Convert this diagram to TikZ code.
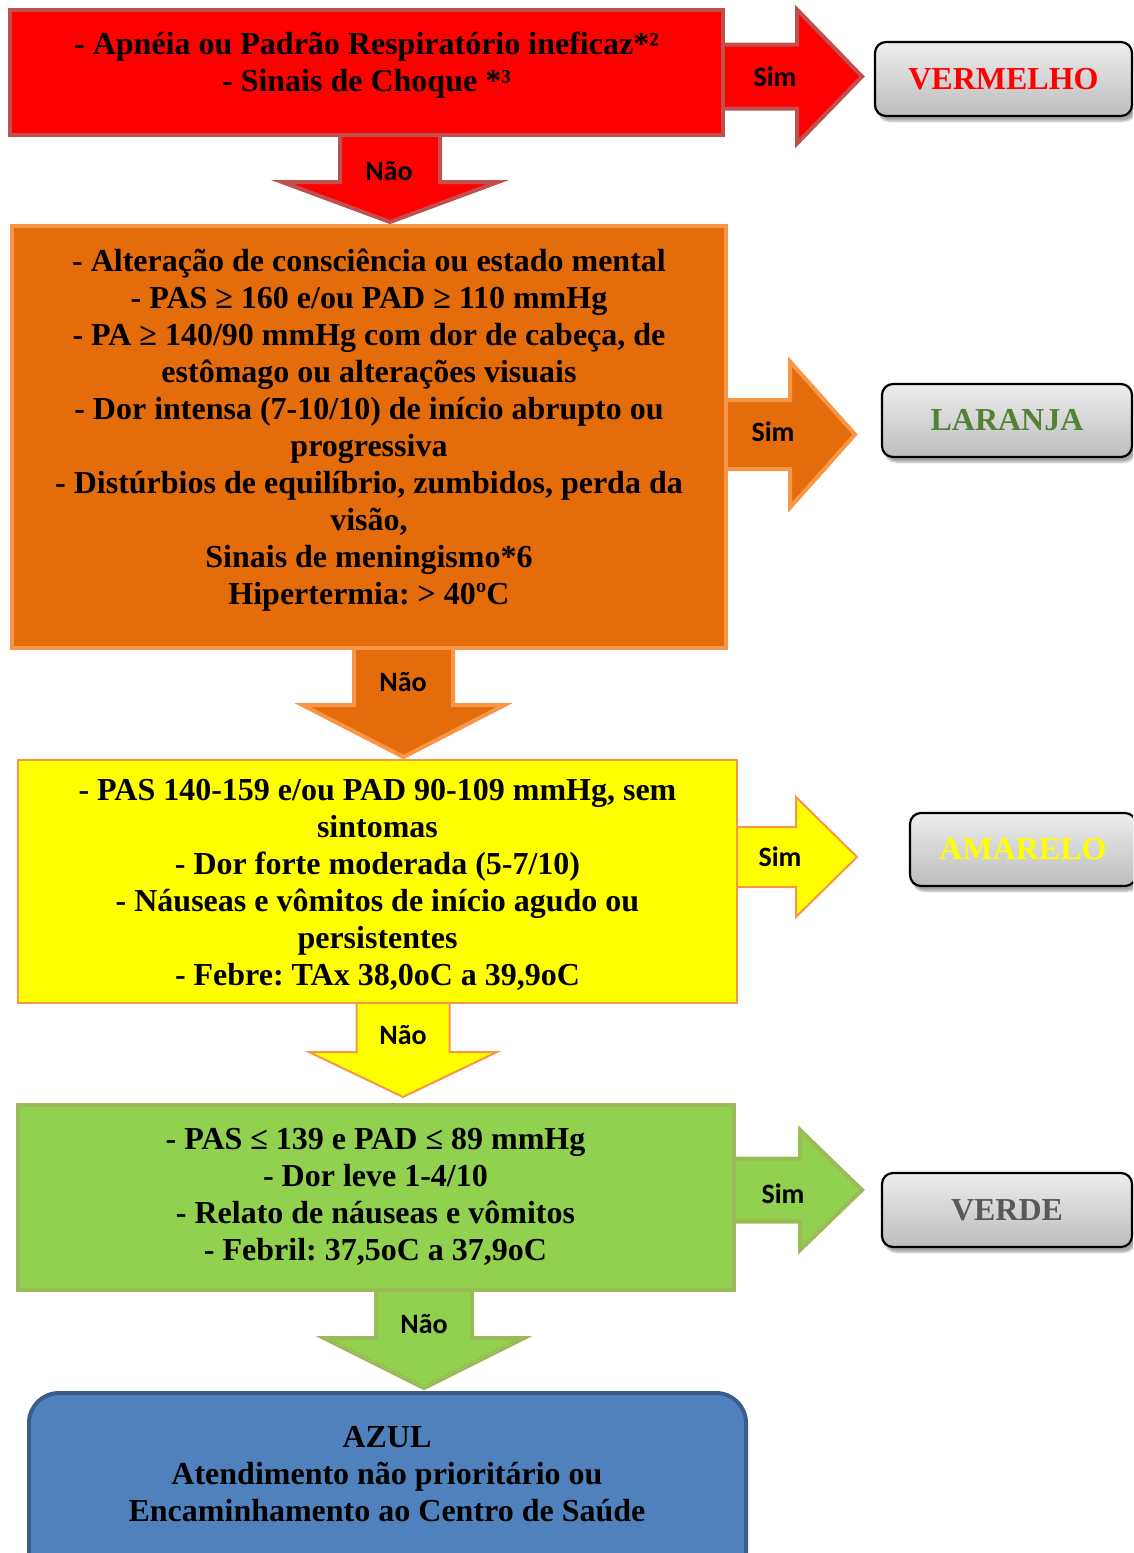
\documentclass[tikz,border=0pt]{standalone}
\usepackage{fontspec}
\setmainfont{Liberation Serif}
\newfontfamily\labelfont{Carlito}
\usetikzlibrary{shadows.blur}
\frenchspacing

\definecolor{redfill}{HTML}{FF0000}
\definecolor{redline}{HTML}{C0504D}
\definecolor{orgfill}{HTML}{E46C0A}
\definecolor{orgline}{HTML}{F79646}
\definecolor{yelfill}{HTML}{FFFF00}
\definecolor{grnfill}{HTML}{92D050}
\definecolor{grnline}{HTML}{9BBB59}
\definecolor{bluefill}{HTML}{4F81BD}
\definecolor{blueline}{HTML}{385D8A}
\definecolor{laranjatxt}{HTML}{548235}
\definecolor{verdetxt}{HTML}{595959}

% block arrow pointing right: style, x start, x head base, x tip, y centre, shaft half, head half
\newcommand\blockright[7]{%
  \draw[#1] (#2,#5-#6) -- (#3,#5-#6) -- (#3,#5-#7) -- (#4,#5)
    -- (#3,#5+#7) -- (#3,#5+#6) -- (#2,#5+#6) -- cycle;}
% block arrow pointing down: style, y start, y head base, y tip, x centre, shaft half, head half
\newcommand\blockdown[7]{%
  \draw[#1] (#5-#6,#2) -- (#5-#6,#3) -- (#5-#7,#3) -- (#5,#4)
    -- (#5+#7,#3) -- (#5+#6,#3) -- (#5+#6,#2) -- cycle;}

\tikzset{
  body/.style={align=center, inner sep=0pt,
    font=\fontsize{32}{37}\selectfont\bfseries},
  decision/.style={draw, line width=#1, rectangle, inner sep=0pt},
  answer/.style={font=\labelfont\fontsize{28}{30}\selectfont\bfseries, inner sep=0pt},
  result/.style={draw=black, line width=2.2pt, rounded corners=11pt,
    top color=black!7, bottom color=black!26, inner sep=0pt,
    blur shadow={shadow xshift=3pt, shadow yshift=-5pt, shadow opacity=35, shadow blur steps=6},
    font=\fontsize{32}{34}\selectfont\bfseries},
}

\begin{document}
\begin{tikzpicture}[x=1pt, y=-1pt]
\useasboundingbox (0,0) rectangle (1133,1553);
\clip (0,0) rectangle (1133,1553);

% ---- block arrows (drawn first, boxes cover their roots)
\blockright{fill=redfill, draw=redline, line width=4pt}{715}{797}{862}{76.5}{32}{67}
\blockdown{fill=redfill, draw=redline, line width=4pt}{128}{182}{222}{390}{50}{108}
\blockright{fill=orgfill, draw=orgline, line width=4pt}{718}{790}{855}{434.5}{34.5}{73}
\blockdown{fill=orgfill, draw=orgline, line width=4pt}{640}{705}{757}{403.5}{49.5}{101}
\blockright{fill=yelfill, draw=orgline, line width=2pt}{730}{796}{857}{857}{30}{60}
\blockdown{fill=yelfill, draw=orgline, line width=2pt}{996}{1052}{1097}{403}{46.5}{94}
\blockright{fill=grnfill, draw=grnline, line width=4pt}{727}{800}{862}{1190}{31.5}{60}
\blockdown{fill=grnfill, draw=grnline, line width=4pt}{1283}{1338}{1388}{424}{48}{100}

% ---- decision boxes
\node[decision=4pt, fill=redfill, draw=redline, minimum width=713pt, minimum height=125pt]
  (qred) at (366.5,72.5) {};
\node[decision=4pt, fill=orgfill, draw=orgline, minimum width=714pt, minimum height=422pt]
  (qorange) at (369,437) {};
\node[decision=2.5pt, fill=yelfill, draw=orgline, minimum width=719pt, minimum height=243pt]
  (qyellow) at (377.5,881.5) {};
\node[decision=4pt, fill=grnfill, draw=grnline, minimum width=716pt, minimum height=185pt]
  (qgreen) at (376,1197.5) {};
\node[draw=blueline, fill=bluefill, line width=4pt, rounded corners=30pt,
  minimum width=717pt, minimum height=200pt, inner sep=0pt]
  (blue) at (387.5,1493) {};

% ---- texts of the boxes
\node[body] (tred) at (366.5,65) {- Apnéia ou Padrão Respiratório ineficaz*²\\- Sinais de Choque *³};
\node[body] (torange) at (369,430) {- Alteração de consciência ou estado mental\\
  - PAS ≥ 160 e/ou PAD ≥ 110 mmHg\\
  - PA ≥ 140/90 mmHg com dor de cabeça, de\\
  estômago ou alterações visuais\\
  - Dor intensa (7-10/10) de início abrupto ou\\
  progressiva\\
  - Distúrbios de equilíbrio, zumbidos, perda da\\
  visão,\\
  Sinais de meningismo*6\\
  Hipertermia: > 40ºC};
\node[body] (tyellow) at (377.5,885) {- PAS 140-159 e/ou PAD 90-109 mmHg, sem\\
  sintomas\\
  - Dor forte moderada (5-7/10)\\
  - Náuseas e vômitos de início agudo ou\\
  persistentes\\
  - Febre: TAx 38,0oC a 39,9oC};
\node[body] (tgreen) at (375.5,1197) {- PAS ≤ 139 e PAD ≤ 89 mmHg\\
  - Dor leve 1-4/10\\
  - Relato de náuseas e vômitos\\
  - Febril: 37,5oC a 37,9oC};
\node[body] (tblue) at (387,1474) {AZUL\\
  Atendimento não prioritário ou\\
  Encaminhamento ao Centro de Saúde};

% ---- answer labels on the arrows
\node[answer] (s1) at (775,77) {Sim};
\node[answer] (n1) at (389,171) {Não};
\node[answer] (s2) at (773,432) {Sim};
\node[answer] (n2) at (403,682) {Não};
\node[answer] (s3) at (780,857) {Sim};
\node[answer] (n3) at (403,1035) {Não};
\node[answer] (s4) at (783,1194) {Sim};
\node[answer] (n4) at (424,1324) {Não};

% ---- result boxes
\node[result, text=redfill, minimum width=257pt, minimum height=74pt]
  (rred) at (1003.5,79) {VERMELHO};
\node[result, text=laranjatxt, minimum width=250pt, minimum height=73pt]
  (rorange) at (1007,420.5) {LARANJA};
\node[result, text=yelfill, minimum width=226pt, minimum height=73pt]
  (ryellow) at (1023,849.5) {AMARELO};
\node[result, text=verdetxt, minimum width=250pt, minimum height=74pt]
  (rgreen) at (1007,1210) {VERDE};
\end{tikzpicture}
\end{document}
